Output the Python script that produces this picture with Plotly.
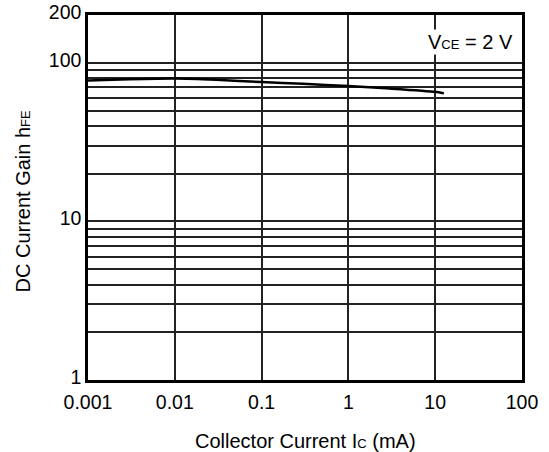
import numpy as np
import plotly.graph_objects as go

# Collector current (mA) and DC current gain hFE at VCE = 2 V
ic_ma = [0.001, 0.003, 0.01, 0.03, 0.1, 0.3, 1, 3, 10, 12.6]
hfe = [77.4, 78.8, 79.7, 78.2, 75.5, 73.6, 71.3, 68.8, 65.6, 64.1]

# Axis ticks
x_ticks = [0.001, 0.01, 0.1, 1, 10, 100]
x_labels = ["0.001", "0.01", "0.1", "1", "10", "100"]
y_ticks = [1, 2, 3, 4, 5, 6, 7, 8, 9,
           10, 20, 30, 40, 50, 60, 70, 80, 90,
           100, 200]
y_labels = ["1", "", "", "", "", "", "", "", "",
            "10", "", "", "", "", "", "", "", "",
            "100", "200"]

FONT = "Liberation Sans, Arial, Helvetica, sans-serif"

fig = go.Figure()
fig.add_trace(go.Scatter(
    x=ic_ma, y=hfe, mode="lines",
    line=dict(color="black", width=2.5, shape="spline", smoothing=0.6),
    showlegend=False, hoverinfo="skip",
))

# Test-condition label in the upper-right corner
fig.add_annotation(
    x=1, y=1, xref="paper", yref="paper",
    xanchor="right", yanchor="top", xshift=-7, yshift=-14,
    text="V<span style='font-size:13px'>CE</span> = 2 V",
    showarrow=False, font=dict(size=20, color="black", family=FONT),
    bgcolor="white", borderpad=1,
)

# Axis titles placed as paper annotations so the plot area stays fixed
fig.add_annotation(
    x=0.5, y=0, xref="paper", yref="paper",
    xanchor="center", yanchor="middle", yshift=-61,
    text="Collector Current I<span style='font-size:13px'>C</span> (mA)",
    showarrow=False, font=dict(size=20, color="black", family=FONT),
)
fig.add_annotation(
    x=0, y=0.5, xref="paper", yref="paper",
    xanchor="center", yanchor="middle", xshift=-66, yshift=-4,
    textangle=-90,
    text="DC Current Gain h<span style='font-size:13px'>FE</span>",
    showarrow=False, font=dict(size=20, color="black", family=FONT),
)

fig.update_xaxes(
    type="log", range=[-3, 2], automargin=False,
    tickvals=x_ticks, ticktext=x_labels, ticklabelstandoff=3,
    showgrid=True, gridcolor="#222", gridwidth=1.5,
    showline=True, linecolor="black", linewidth=2.5, mirror=True,
    ticks="", zeroline=False,
    tickfont=dict(size=19.5, color="black", family=FONT),
)
fig.update_yaxes(
    type="log", range=[0, np.log10(200)], automargin=False,
    tickvals=y_ticks, ticktext=y_labels, ticklabelshift=-3,
    showgrid=True, gridcolor="#222", gridwidth=1.5,
    showline=True, linecolor="black", linewidth=2.5, mirror=True,
    ticks="", zeroline=False,
    tickfont=dict(size=19.5, color="black", family=FONT),
)

fig.update_layout(
    width=549, height=452,
    margin=dict(l=88, r=27, t=15, b=72),
    paper_bgcolor="white", plot_bgcolor="white",
    font=dict(family=FONT, color="black"),
)

fig.write_html("out.html")
